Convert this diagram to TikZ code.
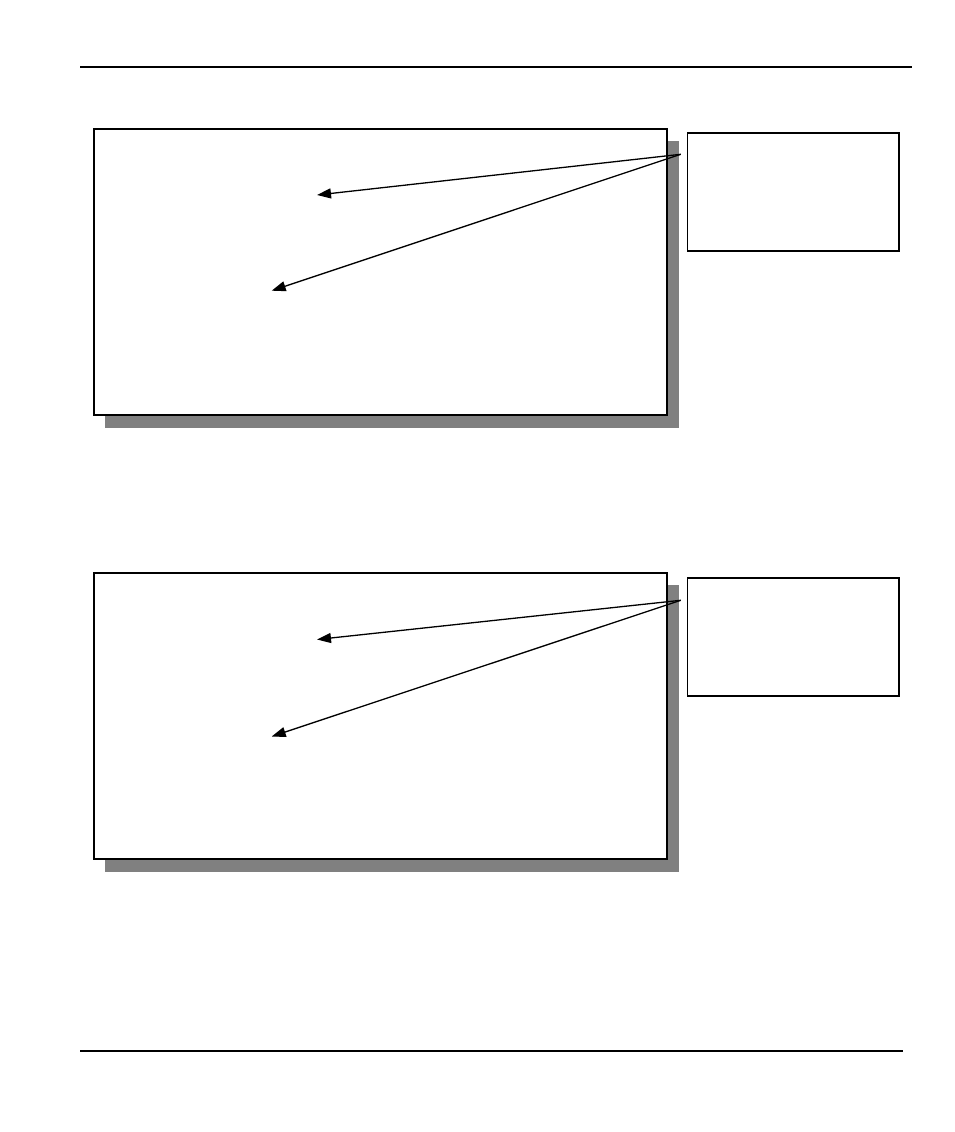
\documentclass[tikz,border=0pt]{standalone}
\usetikzlibrary{arrows.meta}
\tikzset{
  mainbox/.style={draw=black, fill=white, line width=1.6pt, inner sep=0pt, minimum width=573pt, minimum height=286pt, anchor=north west},
  shadowbox/.style={draw=none, fill=black!50, inner sep=0pt, minimum width=574pt, minimum height=287pt, anchor=north west},
  notebox/.style={draw=black, fill=white, line width=1.4pt, inner sep=0pt, minimum width=211.6pt, minimum height=118pt, anchor=north west},
  pointer/.style={draw=black, line width=1.3pt, -{Triangle[length=14pt,width=10pt]}},
  rule/.style={draw=black, line width=2pt}
}
\begin{document}
\begin{tikzpicture}[x=1pt,y=-1pt]
\useasboundingbox (0,0) rectangle (954,1132);
\fill[white] (0,0) rectangle (954,1132);
% header / footer rules
\coordinate (hl) at (80,66.7);
\coordinate (hr) at (911.7,66.7);
\coordinate (fl) at (80,1050.7);
\coordinate (fr) at (903.3,1050.7);
\draw[rule] (hl) -- (hr);
\draw[rule] (fl) -- (fr);
% first diagram
\node[shadowbox] (s1) at (105,140.3) {};
\node[mainbox] (b1) at (93.3,128.3) {};
\node[notebox] (n1) at (686.7,132.3) {};
\coordinate (o1) at (680.7,154.3);
\coordinate (t1a) at (317,195);
\coordinate (t1b) at (271.7,290.7);
\draw[pointer] (o1) -- (t1a);
\draw[pointer] (o1) -- (t1b);
% second diagram
\node[shadowbox] (s2) at (105,584.3) {};
\node[mainbox] (b2) at (93.3,572.3) {};
\node[notebox] (n2) at (686.7,577.3) {};
\coordinate (o2) at (680.7,600.3);
\coordinate (t2a) at (317,639.5);
\coordinate (t2b) at (271.7,736.5);
\draw[pointer] (o2) -- (t2a);
\draw[pointer] (o2) -- (t2b);
\end{tikzpicture}
\end{document}
